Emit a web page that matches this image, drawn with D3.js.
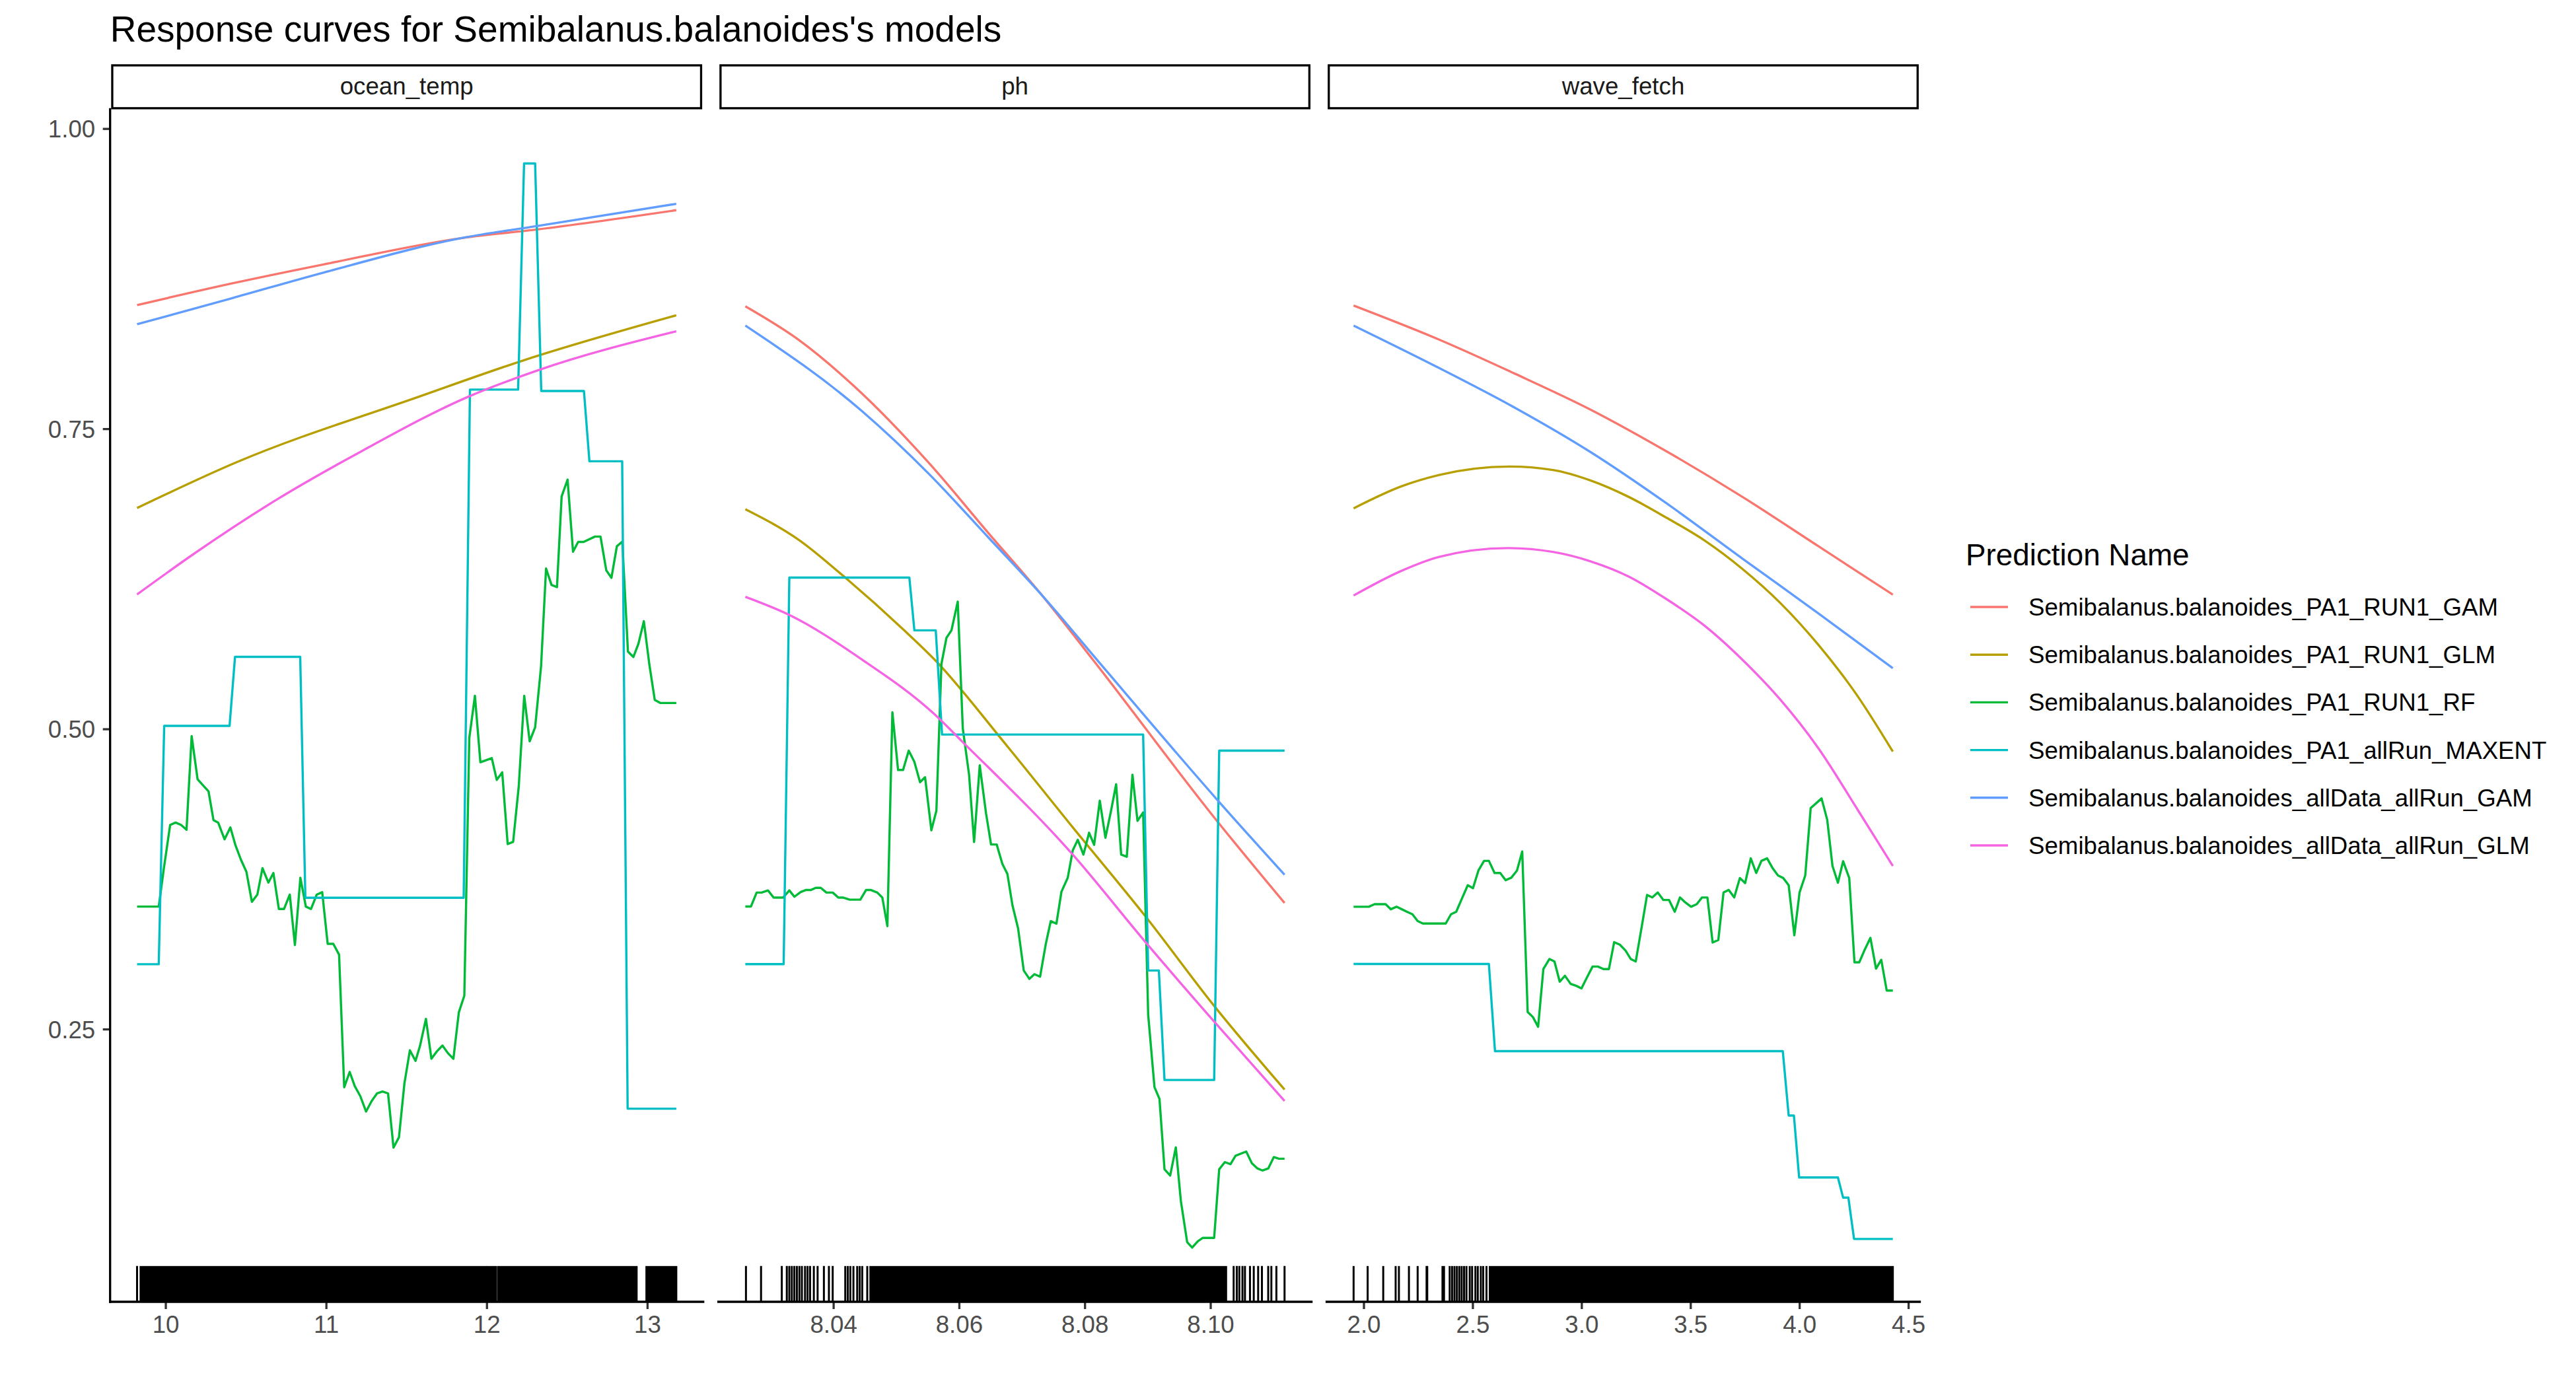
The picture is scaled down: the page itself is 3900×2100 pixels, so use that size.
<!DOCTYPE html>
<html>
<head>
<meta charset="utf-8">
<script src="https://cdn.jsdelivr.net/npm/d3@7"></script>
<style>
  body { margin: 0; background: #ffffff; }
  svg { display: block; }
  text { font-family: "Liberation Sans", Arial, Helvetica, sans-serif; }
</style>
</head>
<body>
<svg id="chart" width="3900" height="2100"></svg>
<script>
// ---------------- DATA ----------------
const chartTitle = "Response curves for Semibalanus.balanoides's models";
const legendTitle = "Prediction Name";
const panelNames = ["ocean_temp", "ph", "wave_fetch"];
const seriesNames = [
  "Semibalanus.balanoides_PA1_RUN1_GAM",
  "Semibalanus.balanoides_PA1_RUN1_GLM",
  "Semibalanus.balanoides_PA1_RUN1_RF",
  "Semibalanus.balanoides_PA1_allRun_MAXENT",
  "Semibalanus.balanoides_allData_allRun_GAM",
  "Semibalanus.balanoides_allData_allRun_GLM"
];
const seriesColors = ["#F8766D", "#B79F00", "#00BA38", "#00BFC4", "#619CFF", "#F564E3"];
const smoothSeries = [true, true, false, false, true, true];

const yTicks = [0.25, 0.50, 0.75, 1.00];
const xTicksOceanTemp = [10, 11, 12, 13];
const xTicksPh = [8.04, 8.06, 8.08, 8.10];
const xTicksWaveFetch = [2.0, 2.5, 3.0, 3.5, 4.0, 4.5];

// ---- ocean_temp ----
const oceanTemp_PA1_GAM = [[9.823,0.853],[10.413,0.871],[10.990,0.887],[11.855,0.909],[12.317,0.916],[13.181,0.932]];
const oceanTemp_PA1_GLM = [[9.823,0.684],[10.441,0.722],[11.584,0.777],[12.230,0.807],[13.181,0.8445]];
const oceanTemp_PA1_RF = [[9.823,0.352],[9.958,0.352],[9.990,0.384],[10.029,0.420],[10.063,0.422],[10.097,0.420],[10.131,0.416],[10.163,0.494],[10.200,0.458],[10.234,0.453],[10.268,0.448],[10.299,0.424],[10.328,0.422],[10.368,0.408],[10.404,0.418],[10.436,0.403],[10.470,0.391],[10.504,0.381],[10.538,0.356],[10.572,0.362],[10.604,0.384],[10.641,0.372],[10.672,0.380],[10.706,0.350],[10.738,0.350],[10.774,0.362],[10.806,0.320],[10.840,0.376],[10.874,0.352],[10.906,0.350],[10.942,0.362],[10.976,0.364],[11.010,0.321],[11.045,0.321],[11.081,0.312],[11.113,0.2015],[11.147,0.2143],[11.179,0.2024],[11.213,0.1942],[11.249,0.1813],[11.284,0.1901],[11.318,0.1965],[11.352,0.1980],[11.386,0.1964],[11.420,0.1513],[11.454,0.1599],[11.488,0.2048],[11.522,0.2323],[11.557,0.2235],[11.585,0.2360],[11.622,0.2585],[11.656,0.2253],[11.690,0.2314],[11.725,0.2363],[11.759,0.2299],[11.793,0.2253],[11.827,0.2640],[11.861,0.2778],[11.892,0.4925],[11.927,0.5276],[11.961,0.4722],[12.032,0.4757],[12.063,0.4575],[12.097,0.4638],[12.131,0.4041],[12.165,0.4059],[12.200,0.4522],[12.234,0.5276],[12.268,0.4897],[12.302,0.5013],[12.339,0.5522],[12.370,0.6336],[12.404,0.6199],[12.438,0.6181],[12.467,0.6936],[12.504,0.7076],[12.538,0.6476],[12.570,0.6557],[12.604,0.6557],[12.675,0.6602],[12.709,0.6602],[12.745,0.6321],[12.777,0.6258],[12.811,0.6521],[12.845,0.6560],[12.880,0.5644],[12.914,0.5599],[12.945,0.5708],[12.979,0.5897],[13.013,0.5539],[13.047,0.5241],[13.081,0.5216],[13.181,0.5216]];
const oceanTemp_PA1_MAXENT = [[9.823,0.304],[9.958,0.304],[9.992,0.5025],[10.399,0.5025],[10.433,0.560],[10.839,0.560],[10.871,0.3594],[11.857,0.3594],[11.896,0.7826],[12.196,0.7826],[12.233,0.9709],[12.302,0.9709],[12.340,0.7814],[12.606,0.7814],[12.640,0.7229],[12.844,0.7229],[12.878,0.1837],[13.181,0.1837]];
const oceanTemp_allData_GAM = [[9.823,0.837],[10.413,0.8587],[10.990,0.8803],[11.855,0.9091],[12.317,0.9189],[13.181,0.9373]];
const oceanTemp_allData_GLM = [[9.823,0.612],[10.168,0.645],[10.693,0.691],[11.217,0.731],[11.886,0.7767],[12.317,0.7986],[13.181,0.8312]];

// ---- ph ----
const ph_PA1_GAM = [[8.0260,0.852],[8.0345,0.824],[8.0432,0.786],[8.0553,0.721],[8.0647,0.663],[8.0734,0.610],[8.0814,0.557],[8.1008,0.425],[8.1118,0.355]];
const ph_PA1_GLM = [[8.0260,0.683],[8.0345,0.6575],[8.0419,0.626],[8.0513,0.582],[8.0563,0.5567],[8.0673,0.488],[8.0781,0.418],[8.0898,0.343],[8.1008,0.268],[8.1118,0.1996]];
const ph_PA1_RF = [[8.0260,0.3521],[8.0269,0.3521],[8.0278,0.3637],[8.0286,0.3637],[8.0296,0.3655],[8.0305,0.3595],[8.0320,0.3595],[8.0330,0.3655],[8.0338,0.3602],[8.0348,0.3641],[8.0356,0.3658],[8.0364,0.3658],[8.0372,0.3676],[8.0380,0.3676],[8.0389,0.3637],[8.0399,0.3637],[8.0408,0.3595],[8.0416,0.3595],[8.0426,0.3578],[8.0443,0.3578],[8.0452,0.3658],[8.0460,0.3658],[8.0470,0.3637],[8.0478,0.3595],[8.0486,0.3357],[8.0494,0.5139],[8.0503,0.4658],[8.0511,0.4658],[8.0520,0.4819],[8.0529,0.4725],[8.0538,0.4556],[8.0546,0.4598],[8.0556,0.4156],[8.0564,0.4318],[8.0572,0.5540],[8.0580,0.5758],[8.0588,0.5821],[8.0598,0.6060],[8.0606,0.5005],[8.0616,0.4619],[8.0624,0.4058],[8.0633,0.4697],[8.0643,0.4297],[8.0651,0.4037],[8.0660,0.4037],[8.0669,0.3876],[8.0677,0.3792],[8.0685,0.3532],[8.0694,0.3339],[8.0703,0.2988],[8.0712,0.2918],[8.0720,0.2957],[8.0729,0.2936],[8.0738,0.3206],[8.0746,0.3399],[8.0755,0.3378],[8.0763,0.3644],[8.0773,0.3760],[8.0781,0.3988],[8.0789,0.4076],[8.0798,0.3953],[8.0807,0.4135],[8.0815,0.4034],[8.0824,0.4402],[8.0833,0.4093],[8.0842,0.4321],[8.0850,0.4539],[8.0858,0.3953],[8.0867,0.3935],[8.0876,0.4619],[8.0884,0.4234],[8.0893,0.4304],[8.0901,0.2620],[8.0911,0.2017],[8.0919,0.1918],[8.0927,0.1332],[8.0936,0.1280],[8.0945,0.1515],[8.0953,0.1069],[8.0963,0.0726],[8.0971,0.0680],[8.0980,0.0733],[8.0988,0.0761],[8.1006,0.0761],[8.1014,0.1332],[8.1023,0.1392],[8.1032,0.1375],[8.1040,0.1445],[8.1057,0.1480],[8.1066,0.1382],[8.1075,0.1339],[8.1083,0.1322],[8.1092,0.1339],[8.1101,0.1434],[8.1109,0.1420],[8.1118,0.1420]];
const ph_PA1_MAXENT = [[8.0260,0.3041],[8.0321,0.3041],[8.0330,0.6260],[8.0521,0.6260],[8.0529,0.5821],[8.0563,0.5821],[8.0573,0.4953],[8.0893,0.4953],[8.0901,0.2988],[8.0918,0.2988],[8.0927,0.2076],[8.1006,0.2076],[8.1014,0.4819],[8.1118,0.4819]];
const ph_allData_GAM = [[8.0260,0.836],[8.0446,0.7645],[8.0553,0.7119],[8.0647,0.6593],[8.0734,0.6102],[8.0821,0.5567],[8.1008,0.4427],[8.1118,0.3785]];
const ph_allData_GLM = [[8.0260,0.610],[8.0332,0.5944],[8.0446,0.5576],[8.0560,0.5127],[8.0606,0.4890],[8.0781,0.3953],[8.0898,0.3216],[8.1008,0.2550],[8.1118,0.1901]];

// ---- wave_fetch ----
const wave_PA1_GAM = [[1.954,0.8526],[2.347,0.8242],[2.695,0.7958],[3.043,0.7658],[3.391,0.7311],[3.739,0.6932],[4.087,0.6522],[4.429,0.6118]];
const wave_PA1_GLM = [[1.954,0.6837],[2.173,0.7020],[2.347,0.7115],[2.669,0.7185],[2.869,0.7156],[3.043,0.7068],[3.217,0.6932],[3.391,0.6758],[3.565,0.6569],[3.739,0.6332],[3.913,0.6048],[4.087,0.5701],[4.261,0.5290],[4.429,0.4811]];
const wave_PA1_RF = [[1.954,0.3519],[2.024,0.3519],[2.050,0.3540],[2.101,0.3540],[2.125,0.3498],[2.151,0.3519],[2.175,0.3498],[2.199,0.3477],[2.224,0.3456],[2.248,0.3400],[2.272,0.3379],[2.377,0.3379],[2.401,0.3456],[2.425,0.3477],[2.450,0.3582],[2.478,0.3698],[2.502,0.3673],[2.527,0.3821],[2.553,0.3901],[2.575,0.3901],[2.601,0.3800],[2.627,0.3800],[2.652,0.3740],[2.678,0.3761],[2.704,0.3821],[2.728,0.3979],[2.753,0.2642],[2.777,0.2600],[2.801,0.2519],[2.825,0.3000],[2.853,0.3084],[2.876,0.3063],[2.900,0.2895],[2.924,0.2944],[2.950,0.2877],[2.976,0.2860],[3.000,0.2839],[3.025,0.2930],[3.051,0.3021],[3.075,0.3021],[3.101,0.3000],[3.126,0.3000],[3.150,0.3224],[3.176,0.3203],[3.202,0.3154],[3.226,0.3084],[3.249,0.3063],[3.275,0.3337],[3.301,0.3617],[3.325,0.3596],[3.350,0.3638],[3.376,0.3575],[3.402,0.3575],[3.428,0.3477],[3.452,0.3596],[3.477,0.3554],[3.503,0.3519],[3.529,0.3540],[3.553,0.3596],[3.578,0.3596],[3.602,0.3221],[3.628,0.3242],[3.652,0.3638],[3.676,0.3659],[3.701,0.3596],[3.727,0.3758],[3.751,0.3716],[3.777,0.3922],[3.802,0.3800],[3.826,0.3901],[3.852,0.3922],[3.878,0.3838],[3.902,0.3779],[3.926,0.3758],[3.951,0.3698],[3.977,0.3281],[4.001,0.3638],[4.027,0.3779],[4.052,0.4340],[4.102,0.4421],[4.128,0.4242],[4.152,0.3859],[4.177,0.3719],[4.201,0.3898],[4.229,0.3758],[4.253,0.3056],[4.275,0.3056],[4.300,0.3161],[4.326,0.3260],[4.352,0.3003],[4.376,0.3077],[4.401,0.2821],[4.429,0.2821]];
const wave_PA1_MAXENT = [[1.954,0.3042],[2.575,0.3042],[2.603,0.2316],[3.924,0.2316],[3.951,0.1780],[3.975,0.1780],[3.999,0.1264],[4.177,0.1264],[4.201,0.1096],[4.225,0.1096],[4.251,0.0752],[4.429,0.0752]];
const wave_allData_GAM = [[1.954,0.8359],[2.347,0.8005],[2.695,0.7674],[3.043,0.7304],[3.391,0.6878],[3.739,0.6418],[4.087,0.5963],[4.429,0.5506]];
const wave_allData_GLM = [[1.954,0.6111],[2.173,0.6316],[2.347,0.6433],[2.660,0.6506],[2.869,0.6474],[3.043,0.6395],[3.217,0.6269],[3.391,0.6080],[3.565,0.5859],[3.739,0.5575],[3.913,0.5243],[4.087,0.4840],[4.270,0.4320],[4.429,0.3859]];

// ---- rug (observed predictor values): single ticks and dense runs ----
const rugTicksOceanTemp = [9.823];
const rugRunsOceanTemp = [[9.845,11.995],[12.005,12.037],[12.047,12.058],[12.071,12.934],[12.995,13.181]];
const rugTicksPh = [8.0261,8.0285,8.0318,8.0326,8.0330,8.0334,8.0338,8.0342,8.0346,8.0350,8.0355,8.0359,8.0363,8.0369,8.0375,8.0385,8.0393,8.0399,8.0419,8.0423,8.0427,8.0432,8.0438,8.0442,8.0446,8.0454,8.1037,8.1042,8.1046,8.1051,8.1055,8.1063,8.1069,8.1076,8.1082,8.1092,8.1097,8.1105,8.1118];
const rugRunsPh = [[8.0459,8.1025]];
const rugTicksWaveFetch = [1.954,2.0185,2.090,2.147,2.162,2.208,2.248,2.289,2.292,2.362,2.369,2.395,2.406,2.417,2.428,2.439,2.450,2.461,2.472,2.487,2.498,2.513,2.524,2.538,2.549,2.564];
const rugRunsWaveFetch = [[2.579,4.429]];

// ---------------- ASSEMBLY ----------------
const panelSeries = [
  [oceanTemp_PA1_GAM, oceanTemp_PA1_GLM, oceanTemp_PA1_RF, oceanTemp_PA1_MAXENT, oceanTemp_allData_GAM, oceanTemp_allData_GLM],
  [ph_PA1_GAM, ph_PA1_GLM, ph_PA1_RF, ph_PA1_MAXENT, ph_allData_GAM, ph_allData_GLM],
  [wave_PA1_GAM, wave_PA1_GLM, wave_PA1_RF, wave_PA1_MAXENT, wave_allData_GAM, wave_allData_GLM]
];
const panelXTicks = [xTicksOceanTemp, xTicksPh, xTicksWaveFetch];
const panelXFormat = [d3.format("d"), d3.format(".2f"), d3.format(".1f")];
const panelRugTicks = [rugTicksOceanTemp, rugTicksPh, rugTicksWaveFetch];
const panelRugRuns = [rugRunsOceanTemp, rugRunsPh, rugRunsWaveFetch];

// ---------------- LAYOUT ----------------
const LEFT = 166.7, PANEL_W = 898, GAP = 22.9;
const TOP = 165.5, BOTTOM = 1971;
const STRIP_TOP = 97.3;
const LINE_W = 3.4, AXIS_W = 3.3;
const FONT_TEXT = 36.7, FONT_TITLE = 55, FONT_LEGEND_TITLE = 45.8;

function expand(ext) {
  const r = ext[1] - ext[0];
  return [ext[0] - 0.05 * r, ext[1] + 0.05 * r];
}

const svg = d3.select("#chart");
svg.append("rect").attr("width", 3900).attr("height", 2100).attr("fill", "#ffffff");

// shared y scale
const yVals = [];
panelSeries.forEach(p => p.forEach(s => s.forEach(d => yVals.push(d[1]))));
const y = d3.scaleLinear().domain(expand(d3.extent(yVals))).range([BOTTOM, TOP]);

// title
svg.append("text")
  .attr("x", LEFT).attr("y", 63)
  .attr("font-size", FONT_TITLE).attr("fill", "#000000")
  .text(chartTitle);

const defs = svg.append("defs");

panelNames.forEach((name, pi) => {
  const pl = LEFT + pi * (PANEL_W + GAP);
  const pr = pl + PANEL_W;
  const series = panelSeries[pi];
  const xVals = [];
  series.forEach(s => s.forEach(d => xVals.push(d[0])));
  const x = d3.scaleLinear().domain(expand(d3.extent(xVals))).range([pl, pr]);

  const g = svg.append("g");

  const clipId = "clip" + pi;
  defs.append("clipPath").attr("id", clipId)
    .append("rect").attr("x", pl).attr("y", TOP).attr("width", PANEL_W).attr("height", BOTTOM - TOP);

  const pg = g.append("g").attr("clip-path", `url(#${clipId})`);

  // series lines
  series.forEach((data, si) => {
    const line = d3.line()
      .x(d => x(d[0])).y(d => y(d[1]))
      .curve(smoothSeries[si] ? d3.curveMonotoneX : d3.curveLinear);
    pg.append("path")
      .attr("d", line(data))
      .attr("fill", "none")
      .attr("stroke", seriesColors[si])
      .attr("stroke-width", LINE_W)
      .attr("stroke-linejoin", "round")
      .attr("stroke-linecap", "butt");
  });

  // rug
  const rugLen = 0.03 * (BOTTOM - TOP);
  const rugG = pg.append("g");
  rugG.selectAll("line.rug").data(panelRugTicks[pi]).enter().append("line")
    .attr("x1", d => x(d)).attr("x2", d => x(d))
    .attr("y1", BOTTOM - rugLen).attr("y2", BOTTOM)
    .attr("stroke", "#000000").attr("stroke-width", 3);
  rugG.selectAll("rect.rug").data(panelRugRuns[pi]).enter().append("rect")
    .attr("x", d => x(d[0]) - 1.5)
    .attr("width", d => x(d[1]) - x(d[0]) + 3)
    .attr("y", BOTTOM - rugLen).attr("height", rugLen)
    .attr("fill", "#000000");

  // strip
  const sIn = 1.6 + AXIS_W / 2;
  g.append("rect")
    .attr("x", pl + sIn).attr("y", STRIP_TOP + AXIS_W / 2)
    .attr("width", PANEL_W - 2 * sIn).attr("height", TOP - STRIP_TOP - AXIS_W)
    .attr("fill", "#ffffff").attr("stroke", "#000000").attr("stroke-width", AXIS_W);
  g.append("text")
    .attr("x", (pl + pr) / 2).attr("y", 143.3)
    .attr("text-anchor", "middle")
    .attr("font-size", FONT_TEXT).attr("fill", "#1A1A1A")
    .text(name);

  // x axis
  const xAxis = d3.axisBottom(x).tickValues(panelXTicks[pi]).tickFormat(panelXFormat[pi])
    .tickSize(11).tickPadding(0);
  const xg = g.append("g").attr("transform", `translate(0,${BOTTOM})`).call(xAxis);
  xg.select(".domain").remove();
  xg.selectAll(".tick line").attr("stroke", "#333333").attr("stroke-width", AXIS_W);
  xg.selectAll(".tick text").attr("fill", "#4D4D4D").attr("font-size", FONT_TEXT)
    .attr("font-family", null).attr("y", 47).attr("dy", null);
  g.append("line")
    .attr("x1", pl).attr("x2", pr).attr("y1", BOTTOM).attr("y2", BOTTOM)
    .attr("stroke", "#000000").attr("stroke-width", AXIS_W).attr("stroke-linecap", "square");

  // y axis (first panel only)
  if (pi === 0) {
    const yAxis = d3.axisLeft(y).tickValues(yTicks).tickFormat(d3.format(".2f"))
      .tickSize(11).tickPadding(0);
    const yg = g.append("g").attr("transform", `translate(${pl},0)`).call(yAxis);
    yg.select(".domain").remove();
    yg.selectAll(".tick line").attr("stroke", "#333333").attr("stroke-width", AXIS_W);
    yg.selectAll(".tick text").attr("fill", "#4D4D4D").attr("font-size", FONT_TEXT)
      .attr("font-family", null).attr("x", -22.5).attr("dy", "0.355em");
    g.append("line")
      .attr("x1", pl).attr("x2", pl).attr("y1", TOP).attr("y2", BOTTOM)
      .attr("stroke", "#000000").attr("stroke-width", AXIS_W).attr("stroke-linecap", "square");
  }
});

// legend
const LEG_X = 2976, KEY_X0 = 2983, KEY_X1 = 3040, LABEL_X = 3071;
const KEY_Y0 = 919, KEY_STEP = 72.2;
const leg = svg.append("g");
leg.append("text")
  .attr("x", LEG_X).attr("y", 856)
  .attr("font-size", FONT_LEGEND_TITLE).attr("fill", "#000000")
  .text(legendTitle);
const items = leg.selectAll("g.item").data(seriesNames).enter().append("g")
  .attr("transform", (d, i) => `translate(0,${KEY_Y0 + i * KEY_STEP})`);
items.append("line")
  .attr("x1", KEY_X0).attr("x2", KEY_X1).attr("y1", 0).attr("y2", 0)
  .attr("stroke", (d, i) => seriesColors[i]).attr("stroke-width", LINE_W);
items.append("text")
  .attr("x", LABEL_X).attr("y", 0).attr("dy", "0.355em")
  .attr("font-size", FONT_TEXT).attr("fill", "#000000")
  .text(d => d);
</script>
</body>
</html>
